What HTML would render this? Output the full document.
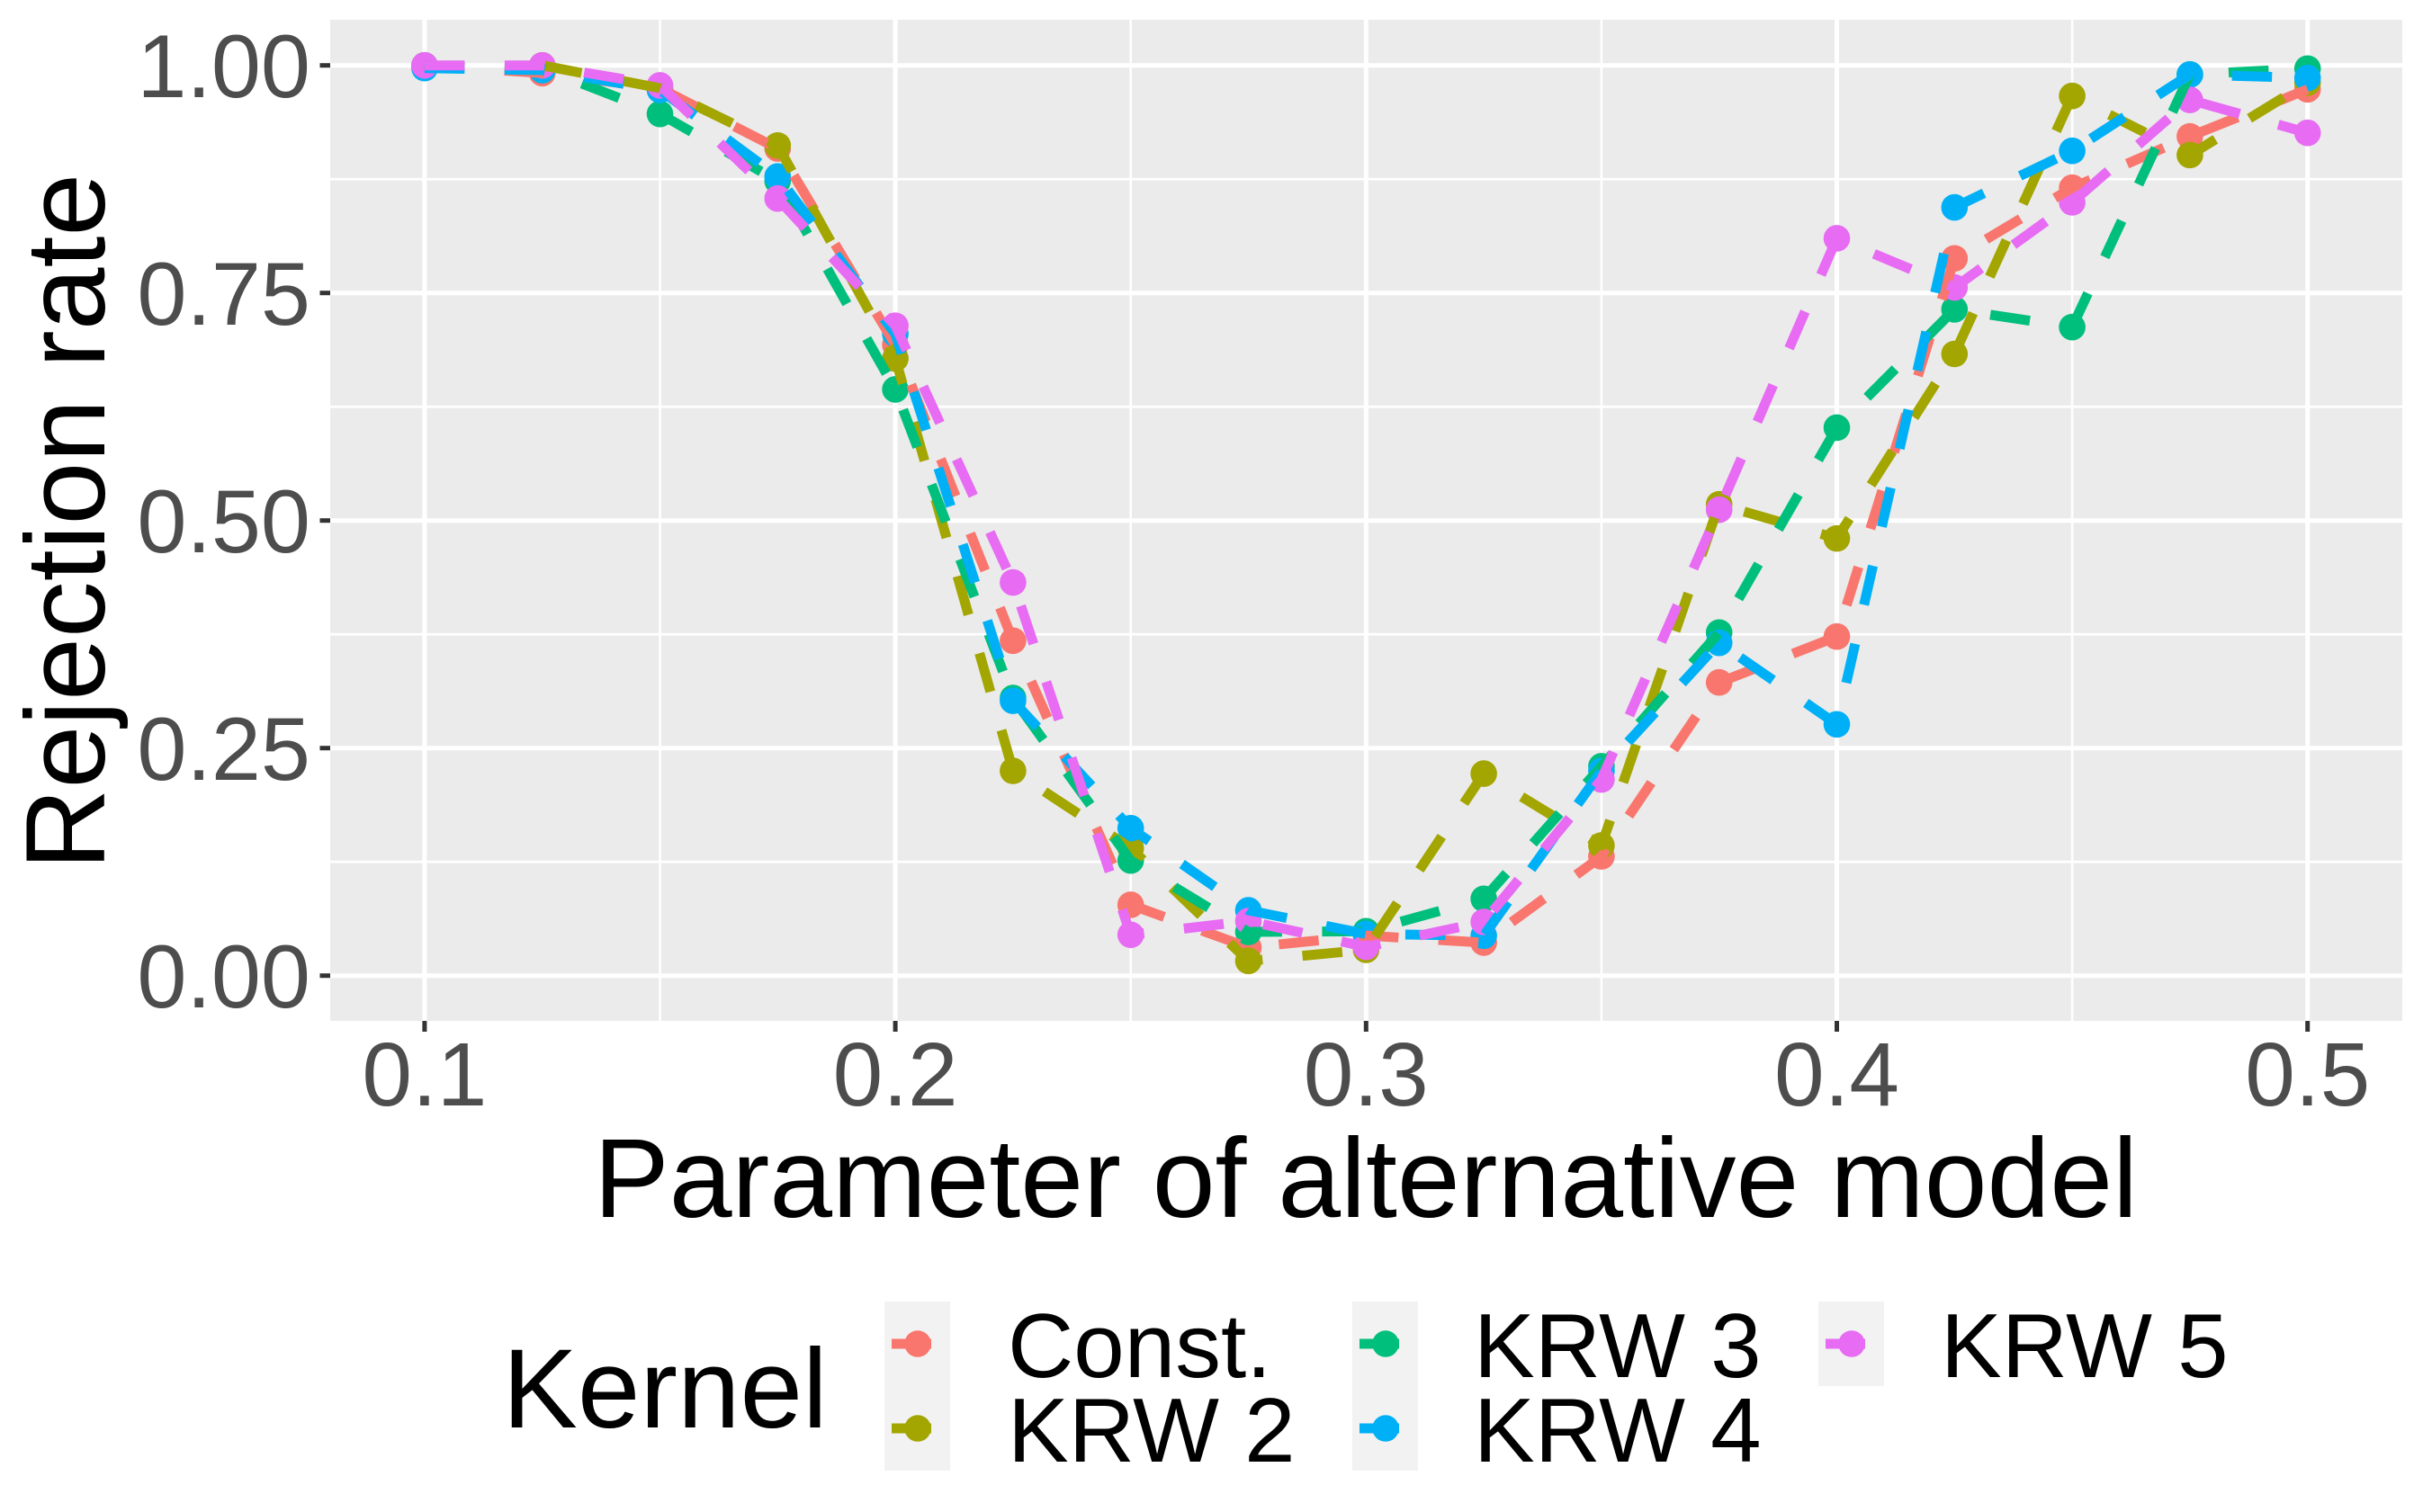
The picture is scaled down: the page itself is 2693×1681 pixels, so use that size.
<!DOCTYPE html>
<html lang="en">
<head>
<meta charset="utf-8">
<title>Rejection rate by parameter of alternative model</title>
<style>
  html, body { margin: 0; padding: 0; background: #ffffff; }
  svg { display: block; font-family: "Liberation Sans", sans-serif; }
</style>
</head>
<body>
<svg id="chart" xmlns="http://www.w3.org/2000/svg" width="2693" height="1681" viewBox="0 0 2693 1681">
  <rect x="0" y="0" width="2693" height="1681" fill="#ffffff"/>
  <rect x="367" y="22" width="2303" height="1113" fill="#EBEBEB"/>
  <g id="grid"></g>
  <g id="axes"></g>
  <g id="points"></g>
  <g id="lines"></g>
  <text transform="translate(116 580) rotate(-90)" text-anchor="middle" font-size="125.5" fill="#000000">Rejection rate</text>
  <text x="1518" y="1353" text-anchor="middle" font-size="125.5" fill="#000000">Parameter of alternative model</text>
  <g>
    <text x="558.5" y="1587" font-size="125" fill="#000000">Kernel</text>
    <rect x="983" y="1447" width="73" height="94" fill="#F2F2F2"/>
    <rect x="983" y="1541" width="73" height="94" fill="#F2F2F2"/>
    <rect x="1503" y="1447" width="73" height="94" fill="#F2F2F2"/>
    <rect x="1503" y="1541" width="73" height="94" fill="#F2F2F2"/>
    <rect x="2021" y="1447" width="73" height="94" fill="#F2F2F2"/>
    <g id="legend-marks"></g>
    <text x="1120" y="1531" font-size="101.5" fill="#000000">Const.</text>
    <text x="1120" y="1625" font-size="101.5" fill="#000000">KRW 2</text>
    <text x="1638" y="1531" font-size="101.5" fill="#000000">KRW 3</text>
    <text x="1638" y="1625" font-size="101.5" fill="#000000">KRW 4</text>
    <text x="2157" y="1531" font-size="101.5" fill="#000000">KRW 5</text>
  </g>
</svg>
<script>
const xValues = [0.1, 0.125, 0.15, 0.175, 0.2, 0.225, 0.25, 0.275, 0.3, 0.325, 0.35, 0.375, 0.4, 0.425, 0.45, 0.475, 0.5];
const constValues = [1.0, 0.9915, 0.975, 0.9087, 0.693, 0.368, 0.0778, 0.031, 0.044, 0.0363, 0.131, 0.3221, 0.3725, 0.788, 0.8656, 0.922, 0.9737];
const krw2Values = [null, 1.0, 0.975, 0.912, 0.678, 0.225, 0.14, 0.0162, 0.0284, 0.222, 0.143, 0.5178, 0.4803, 0.683, 0.9664, 0.9015, 0.981];
const krw3Values = [1.0, 0.997, 0.9467, 0.873, 0.644, 0.305, 0.1265, 0.048, 0.0488, 0.0844, 0.23, 0.3769, 0.602, 0.732, 0.7125, 0.99, 0.9965];
const krw4Values = [0.997, 0.9947, 0.973, 0.878, 0.705, 0.302, 0.162, 0.0718, 0.0458, 0.0439, 0.225, 0.3656, 0.2761, 0.844, 0.9061, 0.99, 0.9862];
const krw5Values = [1.0, 1.0, 0.978, 0.8538, 0.714, 0.432, 0.0449, 0.06, 0.0316, 0.059, 0.2155, 0.5119, 0.81, 0.756, 0.8495, 0.9621, 0.9259];
const seriesNames = ["const", "krw-2", "krw-3", "krw-4", "krw-5"];
const seriesColors = ["#F8766D", "#A3A500", "#00BF7D", "#00B0F6", "#E76BF3"];
const xMajorTicks = [0.1, 0.2, 0.3, 0.4, 0.5];
const xMinorTicks = [0.15, 0.25, 0.35, 0.45];
const yMajorTicks = [0, 0.25, 0.5, 0.75, 1];
const yMinorTicks = [0.125, 0.375, 0.625, 0.875];
const xTickLabels = ["0.1", "0.2", "0.3", "0.4", "0.5"];
const yTickLabels = ["0.00", "0.25", "0.50", "0.75", "1.00"];

const seriesValues = [constValues, krw2Values, krw3Values, krw4Values, krw5Values];
const SVG_NS = "http://www.w3.org/2000/svg";
const PANEL = { left: 367, right: 2670, top: 22, bottom: 1135 };
const POINT_R = 14.8;
const LINE_W = 11;
const DASH = "44.5 44.5";

function xScale(v) { return 471.9 + (v - 0.1) * 5232; }
function yScale(v) { return 1084.7 - v * 1012; }

function make(tag, attrs, parent) {
  const el = document.createElementNS(SVG_NS, tag);
  for (const k in attrs) el.setAttribute(k, attrs[k]);
  parent.appendChild(el);
  return el;
}

const grid = document.getElementById("grid");
const axes = document.getElementById("axes");
const pointsLayer = document.getElementById("points");
const linesLayer = document.getElementById("lines");
const legendMarks = document.getElementById("legend-marks");

yMinorTicks.forEach(function (t) {
  const el = make("line", { x1: PANEL.left, x2: PANEL.right, y1: yScale(t), y2: yScale(t), stroke: "#ffffff", "stroke-width": 2.6 }, grid);
  
  
});
xMinorTicks.forEach(function (t) {
  const el = make("line", { x1: xScale(t), x2: xScale(t), y1: PANEL.top, y2: PANEL.bottom, stroke: "#ffffff", "stroke-width": 2.6 }, grid);
  
  
});
yMajorTicks.forEach(function (t) {
  const el = make("line", { x1: PANEL.left, x2: PANEL.right, y1: yScale(t), y2: yScale(t), stroke: "#ffffff", "stroke-width": 5 }, grid);
  
  
});
xMajorTicks.forEach(function (t) {
  const el = make("line", { x1: xScale(t), x2: xScale(t), y1: PANEL.top, y2: PANEL.bottom, stroke: "#ffffff", "stroke-width": 5 }, grid);
  
  
});

yMajorTicks.forEach(function (t, i) {
  const tick = make("line", { x1: 355.5, x2: PANEL.left, y1: yScale(t), y2: yScale(t), stroke: "#333333", "stroke-width": 5 }, axes);
  
  
  const label = make("text", { x: 345, y: yScale(t) + 35.5, "text-anchor": "end", "font-size": 99, fill: "#4D4D4D" }, axes);
  
  
  label.textContent = yTickLabels[i];
});
xMajorTicks.forEach(function (t, i) {
  const tick = make("line", { x1: xScale(t), x2: xScale(t), y1: PANEL.bottom, y2: 1147, stroke: "#333333", "stroke-width": 5 }, axes);
  
  
  const label = make("text", { x: xScale(t), y: 1229, "text-anchor": "middle", "font-size": 100, fill: "#4D4D4D" }, axes);
  
  
  label.textContent = xTickLabels[i];
});

seriesValues.forEach(function (values, s) {
  const color = seriesColors[s];
  values.forEach(function (v, i) {
    if (v === null) return;
    const c = make("circle", { cx: xScale(xValues[i]), cy: yScale(v), r: POINT_R, fill: color }, pointsLayer);
    
    
  });
});

seriesValues.forEach(function (values, s) {
  const coords = [];
  values.forEach(function (v, i) {
    if (v !== null) coords.push(xScale(xValues[i]).toFixed(2) + "," + yScale(v).toFixed(2));
  });
  const line = make("polyline", { points: coords.join(" "), fill: "none", stroke: seriesColors[s], "stroke-width": LINE_W, "stroke-dasharray": DASH, "stroke-linejoin": "round", "stroke-linecap": "butt" }, linesLayer);
  
  
});

const legendCols = [1020, 1020, 1540, 1540, 2058];
const legendRows = [1494, 1588, 1494, 1588, 1494];
seriesColors.forEach(function (color, s) {
  const cx = legendCols[s];
  const cy = legendRows[s];
  const dot = make("circle", { cx: cx, cy: cy, r: POINT_R, fill: color }, legendMarks);
  
  
  const stub = make("line", { x1: cx - 29, x2: cx + 15, y1: cy, y2: cy, stroke: color, "stroke-width": LINE_W }, legendMarks);
  
  
});
</script>
</body>
</html>
